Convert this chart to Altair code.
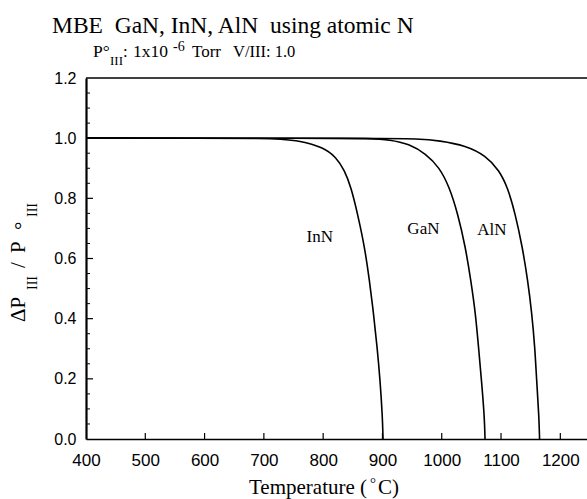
import altair as alt
import pandas as pd

# ---- data ----
inn_t = [400, 600, 700, 727, 760, 800, 822, 836, 847, 858, 870, 878, 885, 891, 896, 900, 901]
inn_r = [1.0, 1.0, 0.999, 0.997, 0.992, 0.970, 0.937, 0.893, 0.837, 0.749, 0.638, 0.528, 0.417, 0.306, 0.196, 0.074, 0.0]
gan_t = [400, 800, 880, 912, 945, 973, 996, 1013, 1027, 1040, 1049, 1057, 1062, 1067, 1072, 1073]
gan_r = [1.0, 1.0, 0.999, 0.995, 0.981, 0.948, 0.903, 0.837, 0.749, 0.638, 0.528, 0.417, 0.306, 0.196, 0.074, 0.0]
aln_t = [400, 900, 960, 996, 1041, 1074, 1097, 1111, 1124, 1136, 1145, 1152, 1157, 1160, 1164, 1165]
aln_r = [1.0, 1.0, 0.998, 0.992, 0.975, 0.942, 0.893, 0.837, 0.749, 0.638, 0.528, 0.417, 0.306, 0.196, 0.074, 0.0]

label_names = ["InN", "GaN", "AlN"]
label_t = [772, 942, 1060]
label_r = [0.654, 0.683, 0.677]

x_ticks = [400, 500, 600, 700, 800, 900, 1000, 1100, 1200]
y_ticks = [0.0, 0.2, 0.4, 0.6, 0.8, 1.0, 1.2]
y_minor = [0.05, 0.1, 0.15, 0.25, 0.3, 0.35, 0.45, 0.5, 0.55, 0.65, 0.7, 0.75,
           0.85, 0.9, 0.95, 1.05, 1.1, 1.15]

W, H = 501, 361
SERIF = "Liberation Serif"
SANS = "Liberation Sans"
NB = "\u00a0"

rows = []
for name, ts, rs in [("InN", inn_t, inn_r), ("GaN", gan_t, gan_r), ("AlN", aln_t, aln_r)]:
    for i, (t, r) in enumerate(zip(ts, rs)):
        rows.append({"series": name, "T": t, "R": r, "i": i})
curves = pd.DataFrame(rows)

xscale = alt.Scale(domain=[400, 1245], nice=False, zero=False)
yscale = alt.Scale(domain=[0, 1.2], nice=False)

xaxis = alt.Axis(values=x_ticks, format="d", ticks=False, grid=False, labelFont=SANS, labelFontSize=17,
                 labelColor="black", labelPadding=13, domainColor="black", domainWidth=1.6,
                 title=None, labelFlush=False)
yaxis = alt.Axis(values=y_ticks, format=".1f", ticks=False, grid=False, labelFont=SANS,
                 labelFontSize=16, labelColor="black", labelPadding=10, domainColor="black",
                 domainWidth=2.2, title=None)

lines = alt.Chart(curves).mark_line(color="black", strokeWidth=1.6, interpolate="basis").encode(
    x=alt.X("T:Q", scale=xscale, axis=xaxis),
    y=alt.Y("R:Q", scale=yscale, axis=yaxis),
    detail="series:N",
    order="i:Q",
)

labels = alt.Chart(pd.DataFrame({"name": label_names, "T": label_t, "R": label_r})).mark_text(
    font=SERIF, fontSize=17, align="left", baseline="alphabetic", color="black"
).encode(x=alt.X("T:Q", scale=xscale), y=alt.Y("R:Q", scale=yscale), text="name:N")

xt = alt.Chart(pd.DataFrame({"T": x_ticks[1:]})).mark_rule(color="black", strokeWidth=1.2).encode(
    x=alt.X("T:Q", scale=xscale), y=alt.value(H), y2=alt.value(H - 6))
yt = alt.Chart(pd.DataFrame({"R": y_ticks[1:-1]})).mark_rule(color="black", strokeWidth=1.2).encode(
    y=alt.Y("R:Q", scale=yscale), x=alt.value(0), x2=alt.value(7))
ym = alt.Chart(pd.DataFrame({"R": y_minor})).mark_rule(color="black", strokeWidth=1).encode(
    y=alt.Y("R:Q", scale=yscale), x=alt.value(0), x2=alt.value(4))
top = alt.Chart(pd.DataFrame({"a": [0]})).mark_rule(color="black", strokeWidth=1.6).encode(
    x=alt.value(0), x2=alt.value(W), y=alt.value(0))

one = pd.DataFrame({"a": [0]})


def txt(text, x, y, size, angle=0, font=SERIF, align="left"):
    kw = dict(text=text, font=font, fontSize=size, align=align, baseline="alphabetic", color="black")
    if angle:
        kw["angle"] = angle
    return alt.Chart(one).mark_text(**kw).encode(x=alt.value(x), y=alt.value(y))


texts = [
    txt(f"MBE{NB}{NB}GaN, InN, AlN{NB}{NB}using atomic N", -34, -45, 23.5),
    txt("P°", 7, -21, 17.5),
    txt("III", 24, -13, 13),
    txt(":", 37, -21, 17),
    txt("1x10", 47, -21, 17.5),
    txt("-6", 87, -27, 14),
    txt("Torr", 106, -21, 17),
    txt("V/III: 1.0", 147, -21, 16.5),
    txt("Temperature (", 163, 416, 21),
    txt("°", 284, 410, 15),
    txt("C)", 292, 416, 21),
    txt("ΔP", -61, 244, 21, angle=270),
    txt("III", -49, 212, 14, angle=270),
    txt("/", -61, 190, 21, angle=270),
    txt("P", -61, 175, 21, angle=270),
    txt("°", -57, 152, 21, angle=270),
    txt("III", -49, 139, 14, angle=270),
]

chart = alt.layer(lines, labels, xt, yt, ym, top, *texts).properties(
    width=W, height=H,
    autosize=alt.AutoSizeParams(type="none"),
    padding={"left": 86, "top": 78, "right": 0, "bottom": 60},
    background="white",
).configure_view(stroke=None)

chart.save("out.html", embed_options={"renderer": "svg", "actions": False})
